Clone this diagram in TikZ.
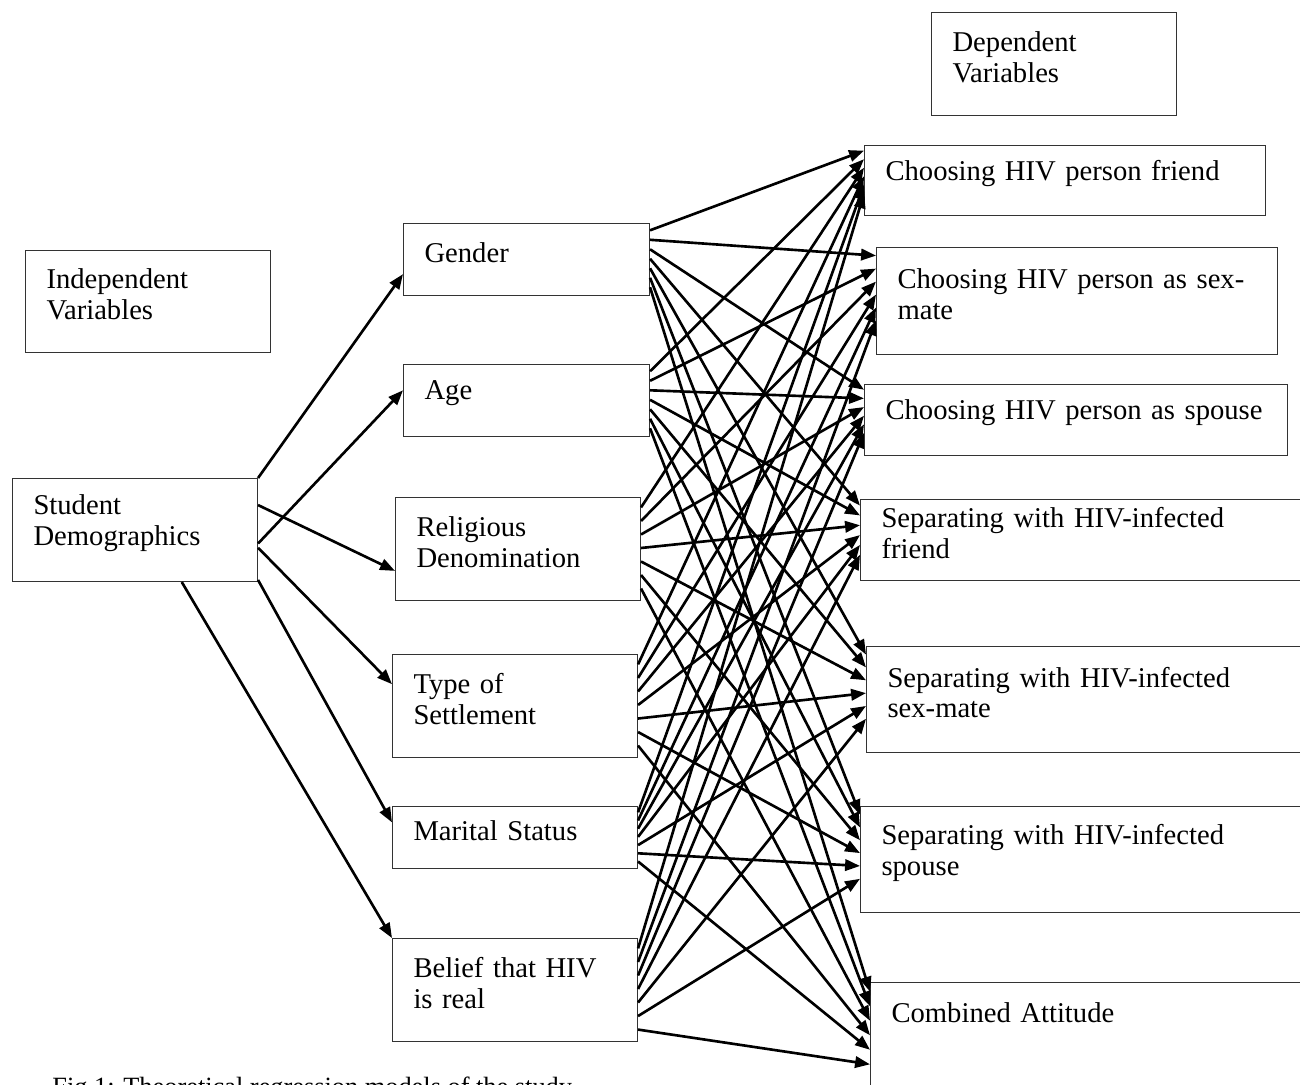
\documentclass[tikz,border=0pt]{standalone}
\usepackage{fontspec}
\setmainfont{Liberation Serif}
\usetikzlibrary{arrows.meta,calc}

\tikzset{
  bx/.style n args={2}{draw=black!80, line width=0.6pt, anchor=north west, align=left,
    inner xsep=0.42cm, text width=#1*0.02cm-0.84cm, minimum height=#2*0.02cm,
    font=\fontsize{16.3}{17.6}\selectfont, execute at end node={\par\vspace*{0.28cm}}},
  arr/.style={-{Triangle[length=8.5pt,width=6.5pt]}, line width=1.5pt},
}

\begin{document}
\begin{tikzpicture}[x=0.02cm,y=-0.02cm]
\useasboundingbox (0,0) rectangle (1300,1084);
\clip (0,0) rectangle (1300,1084);
% headings
\node[bx={245}{103}] (dep) at (931,12) {Dependent\\Variables};
\node[bx={245}{102}] (indep) at (25,250) {Independent\\Variables};
% left column
\node[bx={245}{103}] (stud) at (12,478) {Student\\Demographics};
% middle column
\node[bx={246}{72}] (gen) at (403,223) {Gender};
\node[bx={246}{72}] (age) at (403,364) {Age};
\node[bx={245}{103}] (rel) at (395,497) {Religious\\Denomination};
\node[bx={245}{103}] (set) at (392,654) {Type of\\Settlement};
\node[bx={245}{62}] (mar) at (392,806) {Marital Status};
\node[bx={245}{103}] (bel) at (392,938) {Belief that HIV\\is real};
% right column
\node[bx={401}{70}] (t1) at (864,145) {Choosing HIV person friend};
\node[bx={401}{107}] (t2) at (876,247) {Choosing HIV person as sex-\\mate};
\node[bx={423}{71}] (t3) at (864,384) {\mbox{Choosing HIV person as spouse}};
\node[bx={450}{81}] (t4) at (860,499) {Separating with HIV-infected\\friend};
\node[bx={444}{106}] (t5) at (866,646) {Separating with HIV-infected\\sex-mate};
\node[bx={450}{106}] (t6) at (860,806) {Separating with HIV-infected\\spouse};
\node[bx={440}{120}, execute at end node={}, text depth=1.2cm] (t7) at (870,982) {Combined Attitude};
% caption
\node[anchor=base west, inner sep=0, font=\fontsize{15}{17}\selectfont] (cap) at (52,1095)
  {Fig 1: Theoretical regression models of the study};

% demographics to each variable
\draw[arr] (stud.north east) -- ($(gen.north west)!0.7!(gen.south west)$);
\draw[arr] ($(stud.north east)!0.63!(stud.south east)$) -- ($(age.north west)!0.36!(age.south west)$);
\draw[arr] ($(stud.north east)!0.26!(stud.south east)$) -- ($(rel.north west)!0.71!(rel.south west)$);
\draw[arr] ($(stud.north east)!0.67!(stud.south east)$) -- ($(set.north west)!0.29!(set.south west)$);
\draw[arr] ($(stud.north east)!0.98!(stud.south east)$) -- ($(mar.north west)!0.26!(mar.south west)$);
\draw[arr] ($(stud.south west)!0.69!(stud.south east)$) -- (bel.north west);

% every variable to every attitude
\foreach \s [count=\i from 0] in {gen,age,rel,set,mar,bel} {
  \foreach \t [count=\j from 0] in {t1,t2,t3,t4,t5,t6,t7} {
    \draw[arr] ($(\s.north east)!0.1+0.13*\j!(\s.south east)$)
      -- ($(\t.north west)!0.08+0.12*\i!(\t.south west)$);
  }
}
\end{tikzpicture}
\end{document}
